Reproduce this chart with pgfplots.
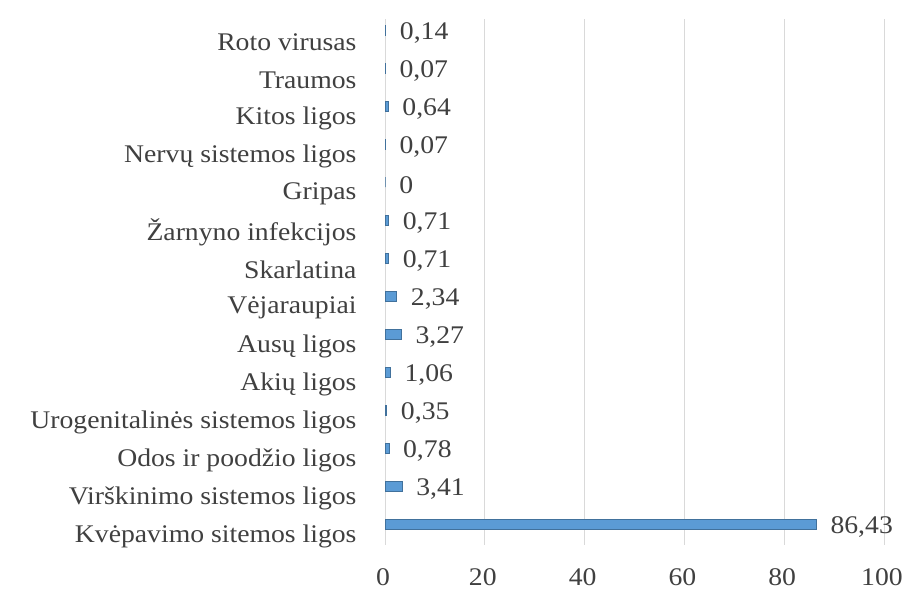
\documentclass[border=0pt]{standalone}
\usepackage{fontspec}
\setmainfont{Liberation Serif}[FakeStretch=1.09]
\usepackage{pgfplots}
\usepackage{pgfplotstable}
\pgfplotsset{compat=1.18}
\definecolor{barblue}{HTML}{5B9BD5}
\definecolor{baredge}{HTML}{41719C}
\definecolor{txt}{HTML}{404040}
\definecolor{gridc}{HTML}{D9D9D9}
\pgfplotstableread{
y v lab
0 86.43 86,43
1 3.41 3,41
2 0.78 0,78
3 0.35 0,35
4 1.06 1,06
5 3.27 3,27
6 2.34 2,34
7 0.71 0,71
8 0.71 0,71
9 0 0
10 0.07 0,07
11 0.64 0,64
12 0.07 0,07
13 0.14 0,14
}\data
\begin{document}
\begin{tikzpicture}
\useasboundingbox (0,0) rectangle (905bp,599bp);
\begin{axis}[
 at={(385bp,54bp)}, anchor=south west,
 scale only axis, width=499bp, height=526.3bp,
 xmin=0, xmax=100, ymin=-0.55, ymax=13.3,
 xtick={0,20,...,100}, ytick={0,...,13},
 yticklabels={Kvėpavimo sitemos ligos, Virškinimo sistemos ligos, Odos ir poodžio ligos, Urogenitalinės sistemos ligos, Akių ligos, Ausų ligos, Vėjaraupiai, Skarlatina, Žarnyno infekcijos, Gripas, Nervų sistemos ligos, Kitos ligos, Traumos, Roto virusas},
 xmajorgrids, grid style={gridc, line width=0.8bp},
 axis line style={draw=none}, major tick length=0pt,
 tick label style={font=\fontsize{25.5}{28}\selectfont, text=txt},
 /pgf/number format/assume math mode=true,
 xticklabel style={yshift=-20bp, xshift=-2bp},
 yticklabel style={xshift=-25bp, yshift=-12bp},
 xbar, bar width=10bp,
 nodes near coords, point meta=explicit symbolic,
 every node near coord/.append style={anchor=west, inner sep=0pt, xshift=14bp, yshift=-3bp, font=\fontsize{25.5}{28}\selectfont, text=txt},
 clip=false,
]
\addplot[fill=barblue, draw=baredge, line width=0.5bp] table[x=v, y=y, meta=lab]{\data};
\end{axis}
\end{tikzpicture}
\end{document}
